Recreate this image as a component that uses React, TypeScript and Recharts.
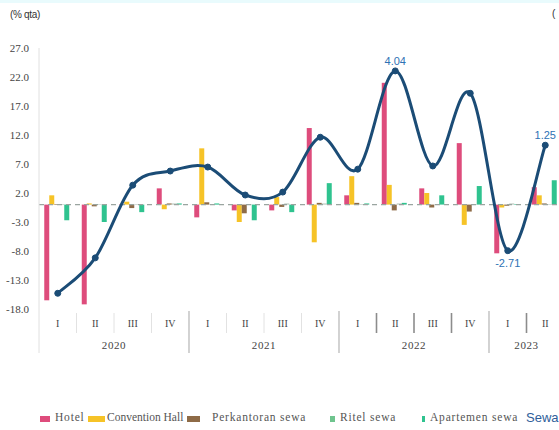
import React from "react";
import {
  ComposedChart,
  Bar,
  Line,
  XAxis,
  YAxis,
  ReferenceLine,
  LabelList,
} from "recharts";

// Quarterly growth by property segment (% qtq) and overall rent (% yoy)
const quarters = ["I", "II", "III", "IV", "I", "II", "III", "IV", "I", "II", "III", "IV", "I", "II"];
const years = ["2020", "2020", "2020", "2020", "2021", "2021", "2021", "2021", "2022", "2022", "2022", "2022", "2023", "2023"];
const hotel = [-16.5, -17.2, 0.1, 2.8, -2.2, -1.0, -1.0, 13.2, 1.6, 21.0, 2.8, 10.6, -8.4, 3.0];
const conventionHall = [1.6, 0.2, 0.5, -0.8, 9.7, -3.0, 1.3, -6.5, 4.9, 3.4, 2.0, -3.5, -0.5, 1.6];
const perkantoranSewa = [0.1, -0.3, -0.6, 0.2, 0.4, -1.5, -0.4, 0.3, 0.3, -1.0, -0.5, -1.2, -0.2, 0.2];
const ritelSewa = [0.1, 0.1, 0.1, 0.2, 0.1, 0.1, 0.2, 0.2, 0.1, 0.2, 0.1, 0.1, 0.2, 0.1];
const apartemenSewa = [-2.7, -3.0, -1.3, 0.2, 0.2, -2.7, -1.3, 3.7, 0.2, 0.3, 1.6, 3.2, 0.1, 4.2];
const sewaYoy = [-4.31, -2.98, -0.25, 0.28, 0.43, -0.62, -0.51, 1.55, 0.35, 4.04, 0.47, 3.2, -2.71, 1.25];
const labeledPoints = [9, 12, 13];
const leftTicks = [-18, -13, -8, -3, 2, 7, 12, 17, 22, 27];
const rightDomain = [-4.9, 4.9];

const legendItems = [
  { label: "Hotel", color: "#DE4C7C" },
  { label: "Convention Hall", color: "#F6C327" },
  { label: "Perkantoran sewa", color: "#8E6B47" },
  { label: "Ritel sewa", color: "#6FC48E" },
  { label: "Apartemen sewa", color: "#2FC38F" },
];
const lineLegend = "Sewa";

const rows = quarters.map((q, i) => ({
  key: `${years[i]}-${q}`,
  q,
  year: years[i],
  hotel: hotel[i],
  conventionHall: conventionHall[i],
  perkantoranSewa: perkantoranSewa[i],
  ritelSewa: ritelSewa[i],
  apartemenSewa: apartemenSewa[i],
  sewaYoy: sewaYoy[i],
}));

const VIEW_W = 559;
const W = 580;
const H = 430;
const X_AXIS_H = 50;
const MARGIN = { top: 48, right: 16, bottom: 71, left: 0 };
const Y_AXIS_W = 39;
const BW = (W - MARGIN.left - MARGIN.right - Y_AXIS_W) / quarters.length;
const AXIS_Y = H - MARGIN.bottom - X_AXIS_H;

// Smooth Bezier curve through every point (Catmull-Rom style tangents)
function smoothCurve(context: any) {
  let pts: number[][] = [];
  return {
    areaStart() {},
    areaEnd() {},
    lineStart() {
      pts = [];
    },
    point(x: number, y: number) {
      pts.push([+x, +y]);
    },
    lineEnd() {
      if (!pts.length) return;
      context.moveTo(pts[0][0], pts[0][1]);
      for (let i = 0; i < pts.length - 1; i++) {
        const p0 = pts[i - 1] || pts[i];
        const p1 = pts[i];
        const p2 = pts[i + 1];
        const p3 = pts[i + 2] || pts[i + 1];
        const c1x = p1[0] + (p2[0] - p0[0]) / 6;
        const c1y = p1[1] + (p2[1] - p0[1]) / 6;
        const c2x = p2[0] - (p3[0] - p1[0]) / 6;
        const c2y = p2[1] - (p3[1] - p1[1]) / 6;
        context.bezierCurveTo(c1x, c1y, c2x, c2y, p2[0], p2[1]);
      }
    },
  };
}

const QuarterTick = (props: any) => {
  const { x, index } = props;
  const row = rows[index];
  if (!row) return null;
  const left = x - BW / 2;
  const firstOfYear = index === 0 || rows[index - 1].year !== row.year;
  const late = row.year === "2022" || row.year === "2023";
  const out: React.ReactNode[] = [];
  out.push(
    <text
      key="q"
      x={x}
      y={AXIS_Y + 18}
      textAnchor="middle"
      fontFamily="Liberation Serif"
      fontSize={10}
      fill="#444"
    >
      {row.q}
    </text>
  );
  if (firstOfYear) {
    const count = rows.filter((r) => r.year === row.year).length;
    out.push(
      <text
        key="y"
        x={left + (count * BW) / 2}
        y={AXIS_Y + 40}
        textAnchor="middle"
        fontFamily="Liberation Serif"
        fontSize={11}
        letterSpacing={0.6}
        fill="#444"
      >
        {row.year}
      </text>
    );
    out.push(
      <line
        key="s"
        x1={left}
        x2={left}
        y1={index === 0 ? AXIS_Y : AXIS_Y + 2}
        y2={AXIS_Y + 44}
        stroke={index === 0 ? "#e0e0e0" : "#b5b5b5"}
        strokeWidth={index === 0 ? 1 : 1.2}
      />
    );
  } else {
    out.push(
      <line
        key="s"
        x1={left}
        x2={left}
        y1={AXIS_Y + 4}
        y2={AXIS_Y + 24}
        stroke={late ? "#8c8c8c" : "#e2e2e2"}
        strokeWidth={late ? 1.6 : 1}
      />
    );
  }
  return <g>{out}</g>;
};

const PointLabel = (props: any) => {
  const { x, y, value, index } = props;
  if (!labeledPoints.includes(index)) return null;
  const below = value < 0;
  return (
    <text
      x={x}
      y={below ? y + 16 : y - 6}
      textAnchor="middle"
      fontFamily="Liberation Sans"
      fontSize={11}
      fill="#2E72B4"
    >
      {value.toFixed(2)}
    </text>
  );
};

export default function App() {
  return (
    <div
      style={{
        position: "fixed",
        left: 0,
        top: 0,
        width: VIEW_W,
        height: H,
        background: "#fff",
        overflow: "hidden",
      }}
    >
      <style>{"html,body{overflow:hidden;margin:0;}"}</style>
      <div style={{ position: "absolute", left: 0, top: 0, width: VIEW_W, height: 3, background: "#e9fbfd" }} />
      <div
        style={{
          position: "absolute",
          left: 10,
          top: 9,
          fontFamily: "Liberation Sans",
          fontSize: 10,
          color: "#333",
          letterSpacing: -0.3,
        }}
      >
        (% qta)
      </div>
      <div
        style={{
          position: "absolute",
          left: 552,
          top: 8,
          fontFamily: "Liberation Sans",
          fontSize: 10,
          color: "#333",
        }}
      >
        (
      </div>
      <div style={{ position: "absolute", left: 0, top: 0 }}>
        <ComposedChart
          width={W}
          height={H}
          data={rows}
          margin={MARGIN}
          barCategoryGap="14%"
          barGap={0}
        >
          <XAxis
            dataKey="key"
            interval={0}
            tickLine={false}
            axisLine={false}
            tick={<QuarterTick />}
            height={X_AXIS_H}
          />
          <YAxis
            yAxisId="l"
            width={Y_AXIS_W}
            domain={[-18, 27]}
            ticks={leftTicks}
            tickFormatter={(v: number) => v.toFixed(1)}
            tickLine={false}
            axisLine={{ stroke: "#e0e0e0" }}
            tick={{ fontFamily: "Liberation Serif", fontSize: 11, fill: "#444" }}
            tickMargin={4}
          />
          <YAxis yAxisId="r" orientation="right" hide domain={rightDomain} />
          <ReferenceLine yAxisId="l" y={0} stroke="#9aa5a0" strokeDasharray="5 4" strokeWidth={1.2} />
          <Bar yAxisId="l" dataKey="hotel" fill={legendItems[0].color} isAnimationActive={false} />
          <Bar yAxisId="l" dataKey="conventionHall" fill={legendItems[1].color} isAnimationActive={false} />
          <Bar yAxisId="l" dataKey="perkantoranSewa" fill={legendItems[2].color} isAnimationActive={false} />
          <Bar yAxisId="l" dataKey="ritelSewa" fill="#b9c7bd" isAnimationActive={false} />
          <Bar yAxisId="l" dataKey="apartemenSewa" fill={legendItems[4].color} isAnimationActive={false} />
          <Line
            yAxisId="r"
            dataKey="sewaYoy"
            type={smoothCurve as any}
            stroke="#1B4C76"
            strokeWidth={3}
            dot={{ r: 3, fill: "#1B4C76", stroke: "#1B4C76", strokeWidth: 1 }}
            isAnimationActive={false}
          >
            <LabelList dataKey="sewaYoy" content={<PointLabel />} />
          </Line>
        </ComposedChart>
      </div>
      <div
        style={{
          position: "absolute",
          left: 0,
          top: 411,
          width: VIEW_W,
          height: 18,
          fontFamily: "Liberation Serif",
          fontSize: 11.5,
          color: "#555",
          whiteSpace: "nowrap",
        }}
      >
        {[
          { left: 40, w: 10, text: 55 },
          { left: 88, w: 17, text: 107 },
          { left: 187, w: 13, text: 212 },
          { left: 330, w: 5, text: 340 },
          { left: 422, w: 3, text: 430 },
        ].map((p, i) => (
          <React.Fragment key={legendItems[i].label}>
            <span
              style={{
                position: "absolute",
                left: p.left,
                top: 5,
                width: p.w,
                height: 6,
                background: legendItems[i].color,
              }}
            />
            <span style={{ position: "absolute", left: p.text, top: 0, letterSpacing: i === 1 ? 0 : 0.8 }}>
              {legendItems[i].label}
            </span>
          </React.Fragment>
        ))}
        <span
          style={{
            position: "absolute",
            left: 526,
            top: -1,
            fontFamily: "Liberation Sans",
            fontSize: 13,
            color: "#2E5E9A",
          }}
        >
          {lineLegend}
        </span>
      </div>
    </div>
  );
}
